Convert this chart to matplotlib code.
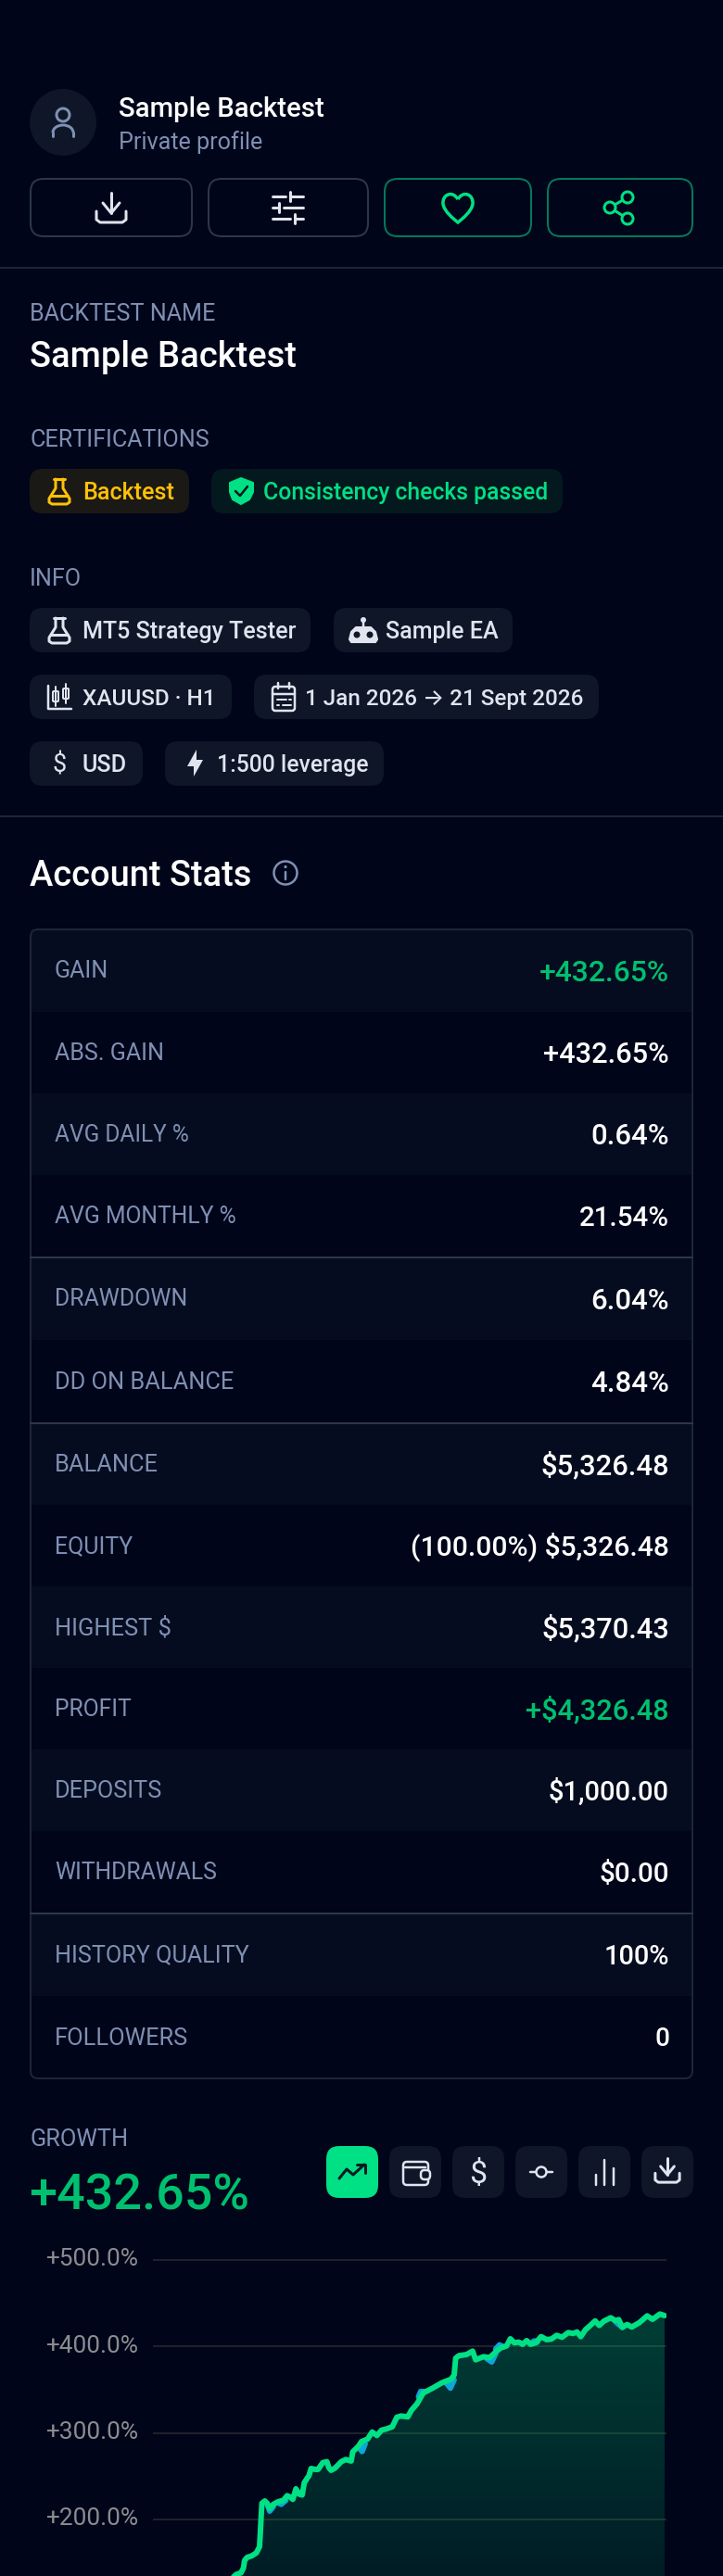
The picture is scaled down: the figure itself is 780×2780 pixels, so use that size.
import numpy as np
import matplotlib
matplotlib.use("Agg")
import matplotlib.pyplot as plt
from matplotlib.patches import FancyBboxPatch, Circle, PathPatch, Polygon, Arc
from matplotlib.path import Path
from matplotlib.transforms import ScaledTranslation

plt.rcParams['font.family'] = ['Roboto', 'Inter', 'DejaVu Sans']

W, H = 780, 2780
PX = 72 / 100  # one pixel in points at dpi=100

BG = '#01051a'
BAND = '#060c1f'
CHIP = '#0e1628'
SLATE = '#7f90b3'
WHITE = '#ffffff'
ICON = '#dfe4ee'
GREEN = '#00e085'
GREEN_TXT = '#00c070'
AMBER = '#ffc107'

# stats table
stat_labels = ['GAIN', 'ABS. GAIN', 'AVG DAILY %', 'AVG MONTHLY %', 'DRAWDOWN', 'DD ON BALANCE',
               'BALANCE', 'EQUITY', 'HIGHEST $', 'PROFIT', 'DEPOSITS', 'WITHDRAWALS',
               'HISTORY QUALITY', 'FOLLOWERS']
stat_values = ['+432.65%', '+432.65%', '0.64%', '21.54%', '6.04%', '4.84%',
               '$5,326.48', '(100.00%) $5,326.48', '$5,370.43', '+$4,326.48', '$1,000.00', '$0.00',
               '100%', '0']
stat_green = ['GAIN', 'PROFIT']

# growth chart, days since 1 Jan 2026 and growth in %
growth_ticks = [200, 300, 400, 500]
days = [36.0, 42.8, 45.2, 46.5, 47.1, 48.4, 50.8, 53.2, 54.8, 55.2, 55.6, 56.0, 57.5, 58.7, 60.0,
        61.9, 64.3, 67.0, 69.0, 70.6, 71.9, 73.5, 75.1, 76.7, 77.8, 80.2, 81.3, 83.3, 84.9, 87.3,
        89.4, 90.5, 91.6, 93.7, 96.8, 99.2, 101.9, 102.7, 105.6, 107.2, 110.3, 112.7, 115.1, 117.5,
        119.9, 123.0, 125.4, 127.5, 131.0, 132.9, 135.7, 138.9, 143.7, 148.4, 153.2, 154.8, 155.6,
        157.2, 161.2, 164.3, 165.9, 169.9, 173.0, 176.2, 178.6, 181.8, 183.7, 185.7, 188.1, 190.0,
        192.1, 194.1, 196.8, 199.5, 202.4, 204.8, 207.5, 210.3, 213.5, 215.9, 218.0, 219.9, 222.3,
        224.6, 227.3, 229.4, 231.8, 235.3, 237.7, 239.4, 241.3, 243.7, 246.1, 250.0, 254.0, 256.8,
        260.6, 263.0]
growth = [122.0, 136.4, 138.2, 143.6, 152.5, 156.1, 157.9, 161.4, 168.6, 184.6, 202.5, 218.6, 221.4,
          218.6, 212.5, 217.5, 220.4, 222.1, 227.5, 225.7, 223.2, 235.4, 229.3, 228.2, 242.5, 250.7,
          258.9, 257.9, 257.9, 265.7, 266.8, 259.6, 256.8, 259.6, 266.8, 269.3, 267.5, 278.2, 284.6,
          290.0, 292.9, 301.1, 297.1, 303.2, 304.6, 307.1, 318.2, 319.6, 318.6, 326.4, 333.6, 346.1,
          351.8, 357.9, 362.1, 366.8, 386.4, 389.3, 390.7, 394.6, 384.6, 388.2, 387.1, 393.6, 398.2,
          400.7, 408.9, 404.3, 405.0, 402.5, 406.8, 402.5, 404.3, 411.4, 407.9, 408.6, 412.9, 410.7,
          416.1, 415.0, 416.8, 411.4, 419.3, 423.9, 429.6, 424.3, 429.3, 433.2, 430.0, 431.1, 422.1,
          425.4, 422.5, 427.5, 435.4, 431.4, 437.5, 435.7]
# second series only shows where it leaves the first one
balance_days = [58.7, 60.0, 61.9, np.nan, 64.3, 65.9, 68.3, np.nan, 105.6, 107.5, 109.1, np.nan,
                136.5, 137.6, 139.7, np.nan, 150.8, 152.9, 154.8, np.nan, 171.4, 174.1, 176.2, np.nan,
                176.2, 178.1, 180.2, np.nan, 194.5, 196.0, 197.6, np.nan, 237.3, 239.4, 241.3]
balance = [218.6, 209.6, 215.0, np.nan, 219.3, 217.5, 222.0, np.nan, 283.9, 278.6, 287.5, np.nan,
           341.8, 347.9, 347.9, np.nan, 357.9, 351.8, 361.4, np.nan, 386.4, 382.1, 391.8, np.nan,
           397.1, 401.8, 399.6, np.nan, 404.0, 406.5, 405.0, np.nan, 430.0, 425.5, 422.1]

# text widths in pixels, fitted so each string ends where it does in the original
label_widths = [58, 118, 145, 196, 143, 193, 112, 84, 126, 83, 116, 175, 209, 144]
value_widths = [140, 136, 85, 97, 85, 85, 139, 279, 138, 155, 131, 76, 71, 16]

fig = plt.figure(figsize=(W / 100, H / 100), dpi=100, facecolor=BG)
ui = fig.add_axes([0, 0, 1, 1], zorder=1)
ui.set_xlim(0, W)
ui.set_ylim(H, 0)
ui.axis('off')
renderer = fig.canvas.get_renderer()


def txt(x, cy, s, size, color=WHITE, weight='normal', ha='left', width=None):
    # cy is the middle of the capitals, cap height is about 0.71 em
    if width is not None:
        probe = ui.text(0, 0, s, fontsize=size * PX, fontweight=weight)
        size = size * width / probe.get_window_extent(renderer).width
        probe.remove()
    return ui.text(x, cy + 0.355 * size, s, fontsize=size * PX, color=color, fontweight=weight,
                   ha=ha, va='baseline')


def box(x0, y0, x1, y1, r, fc='none', ec='none', lw=0):
    p = FancyBboxPatch((x0, y0), x1 - x0, y1 - y0, boxstyle=f'round,pad=0,rounding_size={r}',
                       fc=fc, ec=ec, lw=lw * PX)
    ui.add_patch(p)
    return p


def stroke(xs, ys, color=ICON, lw=3):
    ui.plot(xs, ys, color=color, lw=lw * PX, solid_capstyle='round', solid_joinstyle='round')


def download_icon(cx, cy, k=1.0, color=ICON):
    stroke([cx, cx], [cy - 16 * k, cy + 6 * k], color)
    stroke([cx - 9 * k, cx, cx + 9 * k], [cy - 5 * k, cy + 6 * k, cy - 5 * k], color)
    stroke([cx - 16 * k, cx - 16 * k, cx - 12 * k, cx + 12 * k, cx + 16 * k, cx + 16 * k],
           [cy + 4 * k, cy + 13 * k, cy + 16 * k, cy + 16 * k, cy + 13 * k, cy + 4 * k], color)


def flask_icon(cx, cy, color):
    stroke([cx - 6, cx + 6], [cy - 13, cy - 13], color)
    stroke([cx - 4, cx - 4, cx - 11, cx - 11, cx - 8, cx + 8, cx + 11, cx + 11, cx + 4, cx + 4],
           [cy - 13, cy - 3, cy + 8, cy + 12, cy + 14, cy + 14, cy + 12, cy + 8, cy - 3, cy - 13], color)
    stroke([cx - 9, cx + 9], [cy + 5, cy + 5], color)


# header
ui.add_patch(Circle((68, 132), 36, fc=CHIP, ec='none'))
ui.add_patch(Circle((68, 124), 7, fc='none', ec=SLATE, lw=3 * PX))
stroke([57, 57], [147, 143], SLATE)
stroke([79, 79], [147, 143], SLATE)
ui.add_patch(Arc((68, 143), 22, 16, theta1=180, theta2=360, ec=SLATE, lw=3 * PX))
txt(128, 116, 'Sample Backtest', 28, WHITE, 500, width=222)
txt(128, 152, 'Private profile', 24, SLATE, width=156)

box(33, 193, 207, 255, 14, ec='#2c374c', lw=2)
box(225, 193, 397, 255, 14, ec='#2c374c', lw=2)
box(415, 193, 573, 255, 14, ec='#04795a', lw=2)
box(591, 193, 747, 255, 14, ec='#04795a', lw=2)
download_icon(120, 224)
for y, a, b, t in [(212, 308, 313, 313), (224, 299, 306, 301), (236, 313, 318, 318)]:
    stroke([294, a], [y, y])
    stroke([b, 327], [y, y])
    stroke([t, t], [y - 5, y + 5])
heart = Path([(494, 215), (488, 205), (477, 210), (478, 220), (479, 228), (489, 236), (494, 240),
              (499, 236), (509, 228), (510, 220), (511, 210), (500, 205), (494, 215)],
             [Path.MOVETO] + [Path.CURVE4] * 12)
ui.add_patch(PathPatch(heart, fc='none', ec=GREEN, lw=3.5 * PX))
stroke([677, 658, 677], [213, 224, 236], GREEN, 3)
for c in [(677, 213), (658, 224), (677, 236)]:
    ui.add_patch(Circle(c, 6, fc=BG, ec=GREEN, lw=3 * PX, zorder=3))

ui.plot([0, W], [289, 289], color='#1c2638', lw=2 * PX)

txt(32, 337, 'BACKTEST NAME', 24, SLATE, width=200)
txt(32, 382, 'Sample Backtest', 36, WHITE, 500, width=288)

# certifications
txt(32, 473, 'CERTIFICATIONS', 24, SLATE, width=193)
box(32, 506, 204, 554, 14, fc='#1b1915')
flask_icon(64, 530, AMBER)
txt(89, 530, 'Backtest', 25, AMBER, 500, width=99)
box(228, 506, 607, 554, 14, fc='#03191e')
shield = Path([(260, 516), (248, 521), (248, 531), (251, 539), (260, 544), (269, 539), (273, 531), (273, 521), (260, 516)],
              [Path.MOVETO] + [Path.LINETO] * 7 + [Path.CLOSEPOLY])
ui.add_patch(PathPatch(shield, fc=GREEN, ec=GREEN, lw=2 * PX, joinstyle='round'))
stroke([254, 259, 267], [530, 535, 525], '#03191e', 2.5)
txt(284, 530, 'Consistency checks passed', 25, GREEN, 500, width=307)

# info chips
txt(32, 623, 'INFO', 24, SLATE, width=56)
box(32, 656, 335, 704, 14, fc=CHIP)
flask_icon(64, 680, ICON)
txt(89, 680, 'MT5 Strategy Tester', 25, ICON, 500, width=230)
box(360, 656, 553, 704, 14, fc=CHIP)
ui.add_patch(Circle((392, 669), 3, fc=ICON))
stroke([392, 392], [669, 676], ICON, 2.5)
ui.add_patch(Polygon([(384, 677), (400, 677), (405, 682), (407, 690), (405, 693), (379, 693), (377, 690), (379, 682)],
                     closed=True, fc=ICON, ec=ICON, lw=1.5, joinstyle='round'))
ui.add_patch(Circle((385, 685), 3.5, fc=CHIP))
ui.add_patch(Circle((399, 685), 3.5, fc=CHIP))
txt(416, 680, 'Sample EA', 25, ICON, 500, width=122)

box(32, 728, 250, 776, 14, fc=CHIP)
stroke([52, 52, 77], [740, 765, 765], ICON, 2.5)
for x, y0, y1 in [(60, 746, 757), (71, 743, 754)]:
    stroke([x, x], [y0 - 5, y1 + 5], ICON, 2)
    box(x - 3, y0, x + 3, y1, 1, fc=CHIP, ec=ICON, lw=2)
txt(89, 752, 'XAUUSD · H1', 25, ICON, 500, width=144)
box(274, 728, 646, 776, 14, fc=CHIP)
box(294, 741, 318, 767, 3, ec=ICON, lw=2.5)
stroke([294, 318], [749, 749], ICON, 2.5)
stroke([300, 300], [737, 743], ICON, 2.5)
stroke([312, 312], [737, 743], ICON, 2.5)
stroke([299, 309], [755, 755], ICON, 2)
stroke([312, 314], [755, 755], ICON, 2)
stroke([299, 301], [761, 761], ICON, 2)
stroke([305, 314], [761, 761], ICON, 2)
txt(329, 752, '1 Jan 2026 → 21 Sept 2026', 25, ICON, 500, width=301)

box(32, 800, 154, 848, 14, fc=CHIP)
txt(64, 824, '$', 27, ICON, 'normal', 'center')
txt(89, 824, 'USD', 25, ICON, 500, width=48)
box(178, 800, 414, 848, 14, fc=CHIP)
ui.add_patch(Polygon([(212, 809), (202, 827), (209, 827), (209, 838), (219, 820), (212, 820)], closed=True, fc=ICON))
txt(234, 824, '1:500 leverage', 25, ICON, 500, width=163)

ui.plot([0, W], [881, 881], color='#1c2638', lw=2 * PX)

# account stats
txt(32, 942, 'Account Stats', 36, WHITE, 500, width=240)
ui.add_patch(Circle((308, 942), 12.5, fc='none', ec=SLATE, lw=2.5 * PX))
stroke([308, 308], [941, 949], SLATE, 2.5)
ui.add_patch(Circle((308, 935.5), 1.6, fc=SLATE))

row_tops = [1003, 1092, 1180, 1268, 1357, 1446, 1536, 1624, 1712, 1800, 1888, 1976, 2065, 2154, 2243]
for i, (lab, val) in enumerate(zip(stat_labels, stat_values)):
    top, bot = row_tops[i], row_tops[i + 1]
    if i % 2 == 0:
        ui.fill_between([33, 747], top, bot, color=BAND, lw=0)
    cy = (top + bot) / 2
    txt(59, cy - 1, lab, 24, SLATE, width=label_widths[i])
    txt(722, cy, val, 28, GREEN_TXT if lab in stat_green else WHITE, 500, 'right', width=value_widths[i])
for y in [1357, 1536, 2065]:
    ui.plot([33, 747], [y, y], color='#2c374a', lw=2 * PX)
box(33, 1003, 747, 2243, 8, ec='#1c2638', lw=2)

# growth header
txt(32, 2307, 'GROWTH', 24, SLATE, width=106)
txt(31, 2365, '+432.65%', 50, GREEN_TXT, 500, width=238)
for i, x in enumerate([352, 420, 488, 556, 624, 692]):
    box(x, 2316, x + 56, 2372, 14, fc=GREEN if i == 0 else CHIP)
dark = '#0a1a22'
stroke([366, 374, 381, 393], [2351, 2341, 2347, 2336], dark, 3)
stroke([385, 394, 394], [2336, 2336, 2345], dark, 3)
box(435, 2333, 462, 2358, 4, ec=ICON, lw=2.5)
stroke([437, 459], [2339, 2339], ICON, 2.5)
box(454, 2342, 464, 2352, 4, fc=CHIP, ec=ICON, lw=2.5)
txt(516, 2344, '$', 34, ICON, 'normal', 'center')
ui.add_patch(Circle((584, 2344), 5.5, fc='none', ec=ICON, lw=2.5 * PX))
stroke([572, 578], [2344, 2344], ICON, 2.5)
stroke([590, 596], [2344, 2344], ICON, 2.5)
for x, top in [(643, 2347), (652, 2331), (662, 2340)]:
    stroke([x, x], [2358, top], ICON, 2.5)
download_icon(720, 2342, 0.82)

# growth chart
PX_PER_DAY = 552 / 263
Y_LOW, Y_HIGH = 134.6, 521.4
ax = fig.add_axes([165 / W, 0, 554 / W, 361 / H], zorder=2)
ax.set_facecolor('none')
for s in ax.spines.values():
    s.set_visible(False)
ax.set_xticks([])
ax.set_yticks(growth_ticks)
ax.set_yticklabels([f'+{t:.1f}%' for t in growth_ticks])
ax.tick_params(axis='y', length=0, pad=16 * PX, labelsize=26.3 * PX, labelcolor='#8c8c90')
shift = ScaledTranslation(0, 3 / 100, fig.dpi_scale_trans)
for lab in ax.get_yticklabels():
    lab.set_transform(lab.get_transform() + shift)
ax.grid(axis='y', color='#26272b', lw=1.7 * PX)
ax.set_axisbelow(True)

area = ax.fill_between(days, growth, Y_LOW - 50, color='none', lw=0)
grad = np.zeros((256, 2, 4))
grad[..., 0] = 0.0
grad[..., 1] = 224 / 255
grad[..., 2] = 133 / 255
grad[..., 3] = np.linspace(0.26, 0.11, 256)[:, None]
im = ax.imshow(grad, extent=[0, 264, Y_LOW, 437], aspect='auto', origin='upper', zorder=1.5)
clip = Path(area.get_paths()[0].vertices)
im.set_clip_path(clip, ax.transData)

ax.plot(balance_days, balance, color='#0ea5d9', lw=6 * PX, solid_capstyle='round', zorder=3)
ax.plot(days, growth, color=GREEN, lw=6 * PX, solid_capstyle='round', solid_joinstyle='round', zorder=4)
ax.set_xlim(0, 554 / PX_PER_DAY)
ax.set_ylim(Y_LOW, Y_HIGH)

fig.savefig('out.png', dpi=100, facecolor=BG)
